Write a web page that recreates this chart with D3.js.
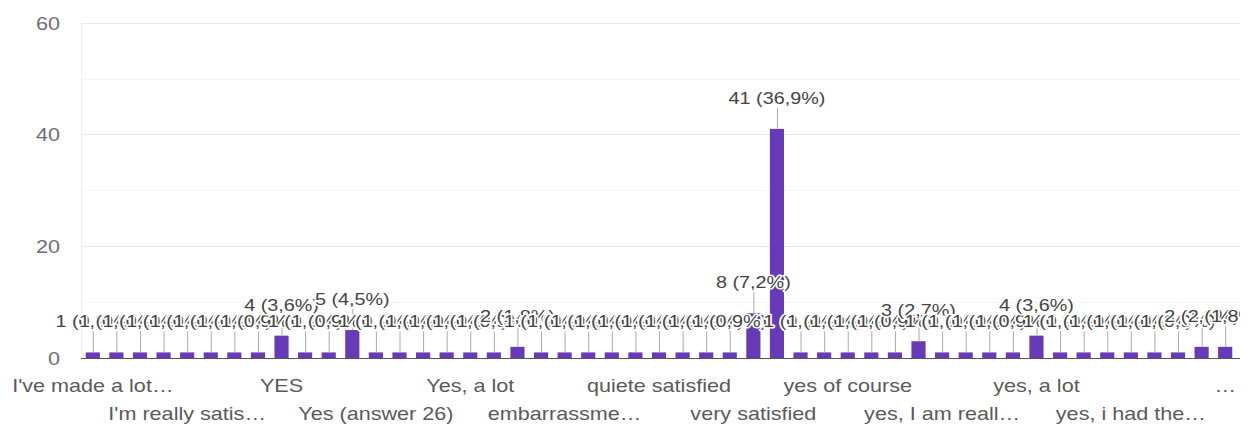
<!DOCTYPE html>
<html><head><meta charset="utf-8">
<script src="https://cdn.jsdelivr.net/npm/d3@7"></script>
<style>body{margin:0;background:#fff;overflow:hidden}</style>
</head><body>
<svg id="c" width="1252" height="428"></svg>
<script>
// Category labels (only every 4th is legible in the chart; others unreadable -> null)
const categories = [
  "I've made a lot…", null, null, null, "I'm really satis…", null, null, null,
  "YES", null, null, null, "Yes (answer 26)", null, null, null,
  "Yes, a lot", null, null, null, "embarrassme…", null, null, null,
  "quiete satisfied", null, null, null, "very satisfied", null, null, null,
  "yes of course", null, null, null, "yes, I am reall…", null, null, null,
  "yes, a lot", null, null, null, "yes, i had the…", null, null, null,
  "…"
];
const values = [
  1,1,1,1,1,1,1,1,4,1,
  1,5,1,1,1,1,1,1,2,1,
  1,1,1,1,1,1,1,1,8,41,
  1,1,1,1,1,3,1,1,1,1,
  4,1,1,1,1,1,1,2,2
];
const yTicks = [0, 20, 40, 60];
const yMinorTicks = [10, 30, 50];

const total = d3.sum(values);
const SX = 1.2;
const svg = d3.select('#c');
svg.append('defs').append('clipPath').attr('id','clip')
  .append('rect').attr('x',0).attr('y',0).attr('width',1240).attr('height',428);
const root = svg.append('g').attr('clip-path','url(#clip)');

const x = d3.scaleBand().domain(d3.range(values.length)).range([81, 1237])
  .paddingInner(0.4).paddingOuter(0.2);
const y = d3.scaleLinear().domain([0, 60]).range([358, 22.7]);

// gridlines
root.selectAll('line.minor').data(yMinorTicks).join('line')
  .attr('x1', 81).attr('x2', 1240)
  .attr('y1', d => Math.round(y(d)) + 0.5).attr('y2', d => Math.round(y(d)) + 0.5)
  .attr('stroke', '#f4f4f4');
root.selectAll('line.major').data(yTicks.filter(d => d > 0)).join('line')
  .attr('x1', 81).attr('x2', 1240)
  .attr('y1', d => Math.round(y(d)) + 0.5).attr('y2', d => Math.round(y(d)) + 0.5)
  .attr('stroke', '#e8e8e8');
root.append('line').attr('x1', 81.5).attr('x2', 81.5).attr('y1', y(60)).attr('y2', y(0))
  .attr('stroke', '#eeeeee');

// bars
root.selectAll('rect.bar').data(values).join('rect')
  .attr('x', (d, i) => x(i)).attr('width', x.bandwidth())
  .attr('y', d => y(d)).attr('height', d => y(0) - y(d))
  .attr('fill', '#673ab7');

// baseline
root.append('line').attr('x1', 81).attr('x2', 1240)
  .attr('y1', y(0) + 0.5).attr('y2', y(0) + 0.5).attr('stroke', '#555');

// annotation stems
const cx = i => x(i) + x.bandwidth() / 2;
root.selectAll('line.stem').data(values).join('line')
  .attr('x1', (d, i) => cx(i) + 0.5).attr('x2', (d, i) => cx(i) + 0.5)
  .attr('y1', d => y(d) - 21).attr('y2', d => y(d))
  .attr('stroke', '#aaa');

// annotations
const fmtPct = v => (Math.round(v / total * 1000) / 10).toFixed(1).replace('.', ',');
root.selectAll('text.ann').data(values).join('text')
  .attr('transform', (d, i) => `translate(${cx(i)},${y(d) - 25}) scale(${SX},1)`)
  .attr('text-anchor', 'middle')
  .attr('font-family', '"Liberation Sans", Arial, sans-serif')
  .attr('font-size', '16.5px')
  .attr('fill', '#444')
  .attr('stroke', '#fff').attr('stroke-width', 3).attr('paint-order', 'stroke')
  .attr('stroke-linejoin', 'round')
  .text(d => `${d} (${fmtPct(d)}%)`);

// y axis
const yAxis = d3.axisLeft(y).tickValues(yTicks).tickSize(0).tickPadding(0);
const yg = root.append('g').attr('transform', 'translate(60,0)').call(yAxis);
yg.select('.domain').remove();
yg.selectAll('text')
  .attr('x', 0).attr('dy', '0.35em')
  .attr('transform', `scale(${SX},1)`)
  .attr('font-family', '"Liberation Sans", Arial, sans-serif')
  .attr('font-size', '18px').attr('fill', '#6e6e6e');

// x axis (every 4th label, alternating rows)
const xTickIdx = d3.range(0, values.length, 4);
const xAxis = d3.axisBottom(x).tickValues(xTickIdx).tickFormat(i => categories[i]).tickSize(0);
const xg = root.append('g').attr('transform', `translate(0,${y(0)})`).call(xAxis);
xg.select('.domain').remove();
xg.selectAll('text')
  .attr('y', 0).attr('dy', 0)
  .attr('transform', (d, k) => `translate(0,${(xTickIdx.indexOf(d) % 2) ? 62 : 33.5}) scale(${SX},1)`)
  .attr('text-anchor', 'middle')
  .attr('font-family', '"Liberation Sans", Arial, sans-serif')
  .attr('font-size', '18px').attr('fill', '#5a5a5a');
</script>
</body></html>
